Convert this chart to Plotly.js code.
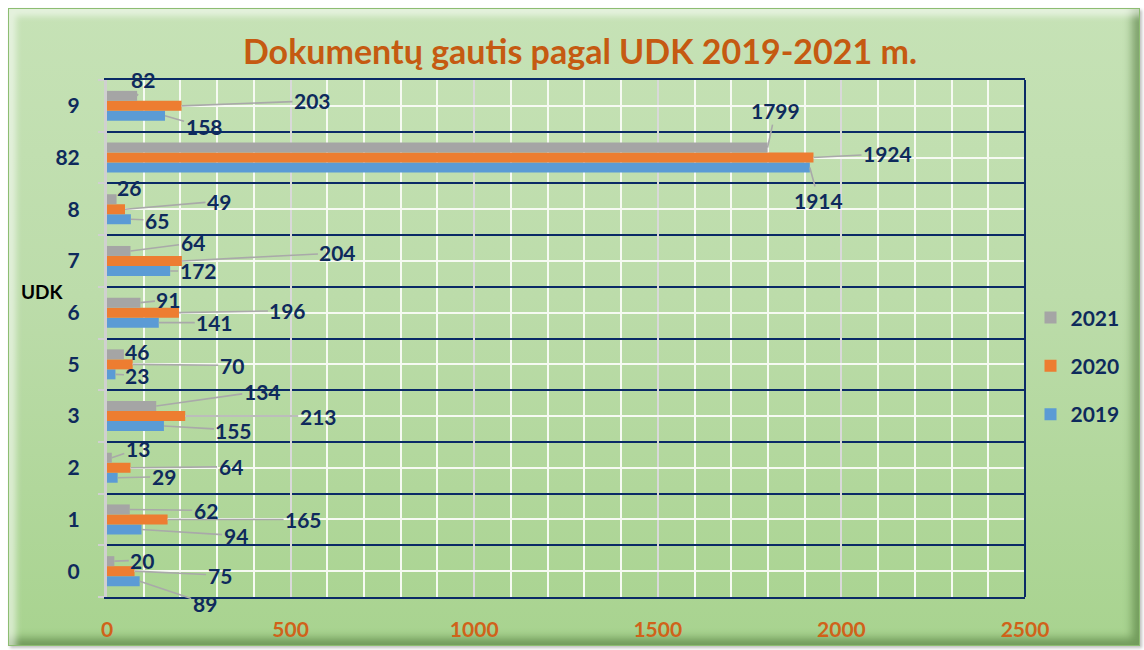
<!DOCTYPE html>
<html>
<head>
<meta charset="utf-8">
<script src="https://cdn.plot.ly/plotly-3.0.1.min.js"></script>
<style>
  html, body { margin:0; padding:0; background:#ffffff; }
  #frame {
    position:absolute; left:8px; top:8px; width:1132px; height:638px;
    box-sizing:border-box;
    background: linear-gradient(to bottom, #c6e2b6 0%, #bcdcaa 45%, #a8d38f 100%);
    border:1px solid #8dbd72;
    box-shadow: inset 7px 7px 6px rgba(255,255,255,0.55), inset -7px -7px 8px rgba(70,110,50,0.55), 2px 2px 3px rgba(0,0,0,0.25);
  }
  #chart { position:absolute; left:0; top:0; width:1144px; height:650px; }
</style>
</head>
<body>
<div id="frame"></div>
<div id="chart"></div>
<script>
// ---- data ----
const categories = ['0', '1', '2', '3', '5', '6', '7', '8', '82', '9'];
const seriesNames = ['2019', '2020', '2021'];
const values2019 = [89, 94, 29, 155, 23, 141, 172, 65, 1914, 158];
const values2020 = [75, 165, 64, 213, 70, 196, 204, 49, 1924, 203];
const values2021 = [20, 62, 13, 134, 46, 91, 64, 26, 1799, 82];
const xTickVals = [0, 500, 1000, 1500, 2000, 2500];

// ---- styling / label placement (pixel offsets of labels from bar ends) ----
const colors = ['#5b9bd5', '#ed7d31', '#a5a5a5'];
const labelOffsets2019 = [[65,22],[94,6],[46,-1],[70,4],[22,1],[56,0],[28,0],[26,1],[9,33],[39,11]];
const labelOffsets2020 = [[85,4],[136,0],[100,-1],[133,0],[99,1],[109,-2],[156,-8],[94,-8],[74,-4],[131,-5]];
const labelOffsets2021 = [[28,-1],[76,1],[26,-9],[106,-15],[13,-3],[28,-3],[62,-8],[12,-12],[8,-37],[6,-16]];

const FONT = 'Lato, "Open Sans", "DejaVu Sans", sans-serif';
const NAVY = '#0e2a5c';
const bargap = 0.42;
const barW = (1 - bargap) / 3;

const allValues = [values2019, values2020, values2021];
const allOffsets = [labelOffsets2019, labelOffsets2020, labelOffsets2021];
const yIdx = categories.map((c, i) => i);

const traces = allValues.map((vals, k) => ({
  type: 'bar', orientation: 'h',
  name: seriesNames[k], x: vals, y: yIdx,
  marker: { color: colors[k] },
  legendgroup: 'g' + k,
  legendrank: 3 - k,
  hoverinfo: 'x+name'
}));

const annotations = [];
allValues.forEach((vals, k) => {
  vals.forEach((v, i) => {
    const off = allOffsets[k][i];
    annotations.push({
      x: v, y: i + (k - 1) * barW, xref: 'x', yref: 'y',
      text: String(v), showarrow: true, arrowhead: 0, arrowwidth: 1.6,
      arrowcolor: '#a9a9a9', ax: off[0], ay: off[1], standoff: 0,
      font: { family: FONT, size: 21, color: NAVY, weight: 'bold' }
    });
  });
});
annotations.push({
  text: 'UDK', xref: 'paper', yref: 'paper', x: -0.07, y: 0.59,
  xanchor: 'center', yanchor: 'middle',
  showarrow: false, font: { family: FONT, size: 19, color: '#000000', weight: 'bold' }
});

const layout = {
  width: 1144, height: 650,
  margin: { l: 107, r: 119, t: 80, b: 53, autoexpand: false },
  paper_bgcolor: 'rgba(0,0,0,0)', plot_bgcolor: 'rgba(0,0,0,0)',
  barmode: 'group', bargap: bargap, bargroupgap: 0,
  title: {
    text: 'Dokumentų gautis pagal UDK 2019-2021 m.',
    x: 0.507, xanchor: 'center', xref: 'container',
    y: 0.92, yanchor: 'middle', yref: 'container',
    font: { family: FONT, size: 34, color: '#c55a11', weight: 'bold' }
  },
  xaxis: {
    range: [0, 2500], tickvals: xTickVals, ticktext: xTickVals.map(String),
    showgrid: true, gridcolor: '#d9d9d9', gridwidth: 2,
    minor: { dtick: 100, showgrid: true, gridcolor: '#f6faf2', gridwidth: 2 },
    showline: true, linecolor: '#0a2a66', linewidth: 2, mirror: true,
    zeroline: false, ticks: '', ticklabelstandoff: 13,
    tickfont: { family: FONT, size: 21, color: '#d0621a', weight: 'bold' },
    fixedrange: true
  },
  yaxis: {
    range: [-0.5, 9.5], tickvals: yIdx, ticktext: categories,
    showgrid: true, gridcolor: '#f6faf2', gridwidth: 2,
    minor: { tick0: 0.5, dtick: 1, showgrid: true, gridcolor: '#0a2a66', gridwidth: 2,
             ticks: 'outside', ticklen: 6, tickcolor: '#d0d0d0', tickwidth: 2 },
    showline: true, linecolor: '#d0d0d0', linewidth: 3,
    zeroline: false, ticks: '', ticklabelstandoff: 20,
    tickfont: { family: FONT, size: 21, color: NAVY, weight: 'bold' },
    fixedrange: true
  },
  shapes: [{
    type: 'line', xref: 'x domain', yref: 'y domain', x0: 1, x1: 1, y0: 0, y1: 1,
    line: { color: '#0a2a66', width: 2 }, layer: 'above'
  }],
  legend: {
    x: 1.006, xanchor: 'left', y: 0.447, yanchor: 'middle',
    traceorder: 'grouped', tracegroupgap: 18,
    bgcolor: 'rgba(0,0,0,0)',
    font: { family: FONT, size: 21, color: NAVY, weight: 'bold' },
    itemwidth: 30
  },
  annotations: annotations,
  showlegend: true
};

Plotly.newPlot('chart', traces, layout, { displayModeBar: false, staticPlot: false });
</script>
</body>
</html>
